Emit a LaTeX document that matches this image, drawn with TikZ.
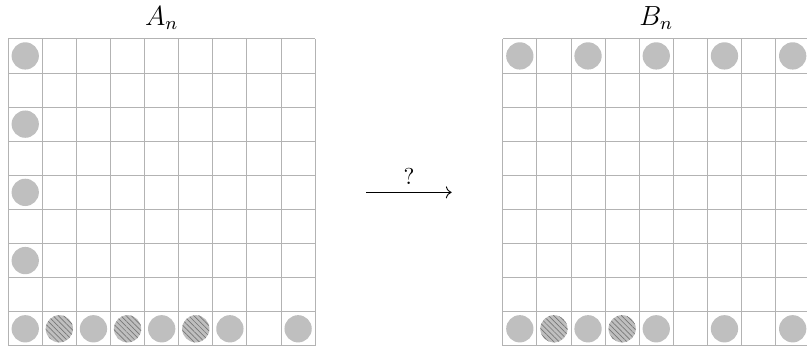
\documentclass[tikz,border=0pt]{standalone}
\usepackage{amsmath}
\usetikzlibrary{arrows.meta,patterns.meta}
\definecolor{rule}{HTML}{B3B3B3}
\definecolor{tokenfill}{HTML}{BFBFBF}
\definecolor{hatchline}{HTML}{777777}
\tikzset{
 board/.style={draw=rule,line width=.4pt,step={(1,1)}},
 title/.style={inner sep=1pt,font=\large},
 dot/.style={circle,fill=tokenfill,inner sep=0pt,minimum size=4.16mm},
 hdot/.style={dot,postaction={pattern={Lines[angle=-45,distance=1.6pt,line width=.3pt]},pattern color=hatchline}},
 move/.style={->,draw=black,line width=.4pt},
}
\begin{document}
\begin{tikzpicture}[x=.52cm,y=.52cm]

\useasboundingbox (-.24,-.16) rectangle (23.42,10.14);
\draw[board] (0,0) grid (9,9);
\begin{scope}[shift={(14.5,0)}]
\draw[board] (0,0) grid (9,9);
\end{scope}
\node[title] (An) at (4.5,9.6) {$A_n$};
\node[title] (Bn) at (19,9.6) {$B_n$};
\foreach \r in {0,2,4,6,8} \node[dot] (aside\r) at (.5,\r+.5) {};
\foreach \c in {2,4,6,8} \node[dot] (abot\c) at (\c+.5,.5) {};
\foreach \c in {1,3,5} \node[hdot] (ahat\c) at (\c+.5,.5) {};
\foreach \c in {0,2,4,6,8} \node[dot] (btop\c) at (15+\c,8.5) {};
\foreach \c in {0,2,4,6,8} \node[dot] (bbot\c) at (15+\c,.5) {};
\foreach \c in {1,3} \node[hdot] (bhat\c) at (15+\c,.5) {};
\coordinate (from) at (10.5,4.5);
\coordinate (to) at (13,4.5);
\draw[move] (from) -- node[above] (ask) {?} (to);

\end{tikzpicture}
\end{document}
